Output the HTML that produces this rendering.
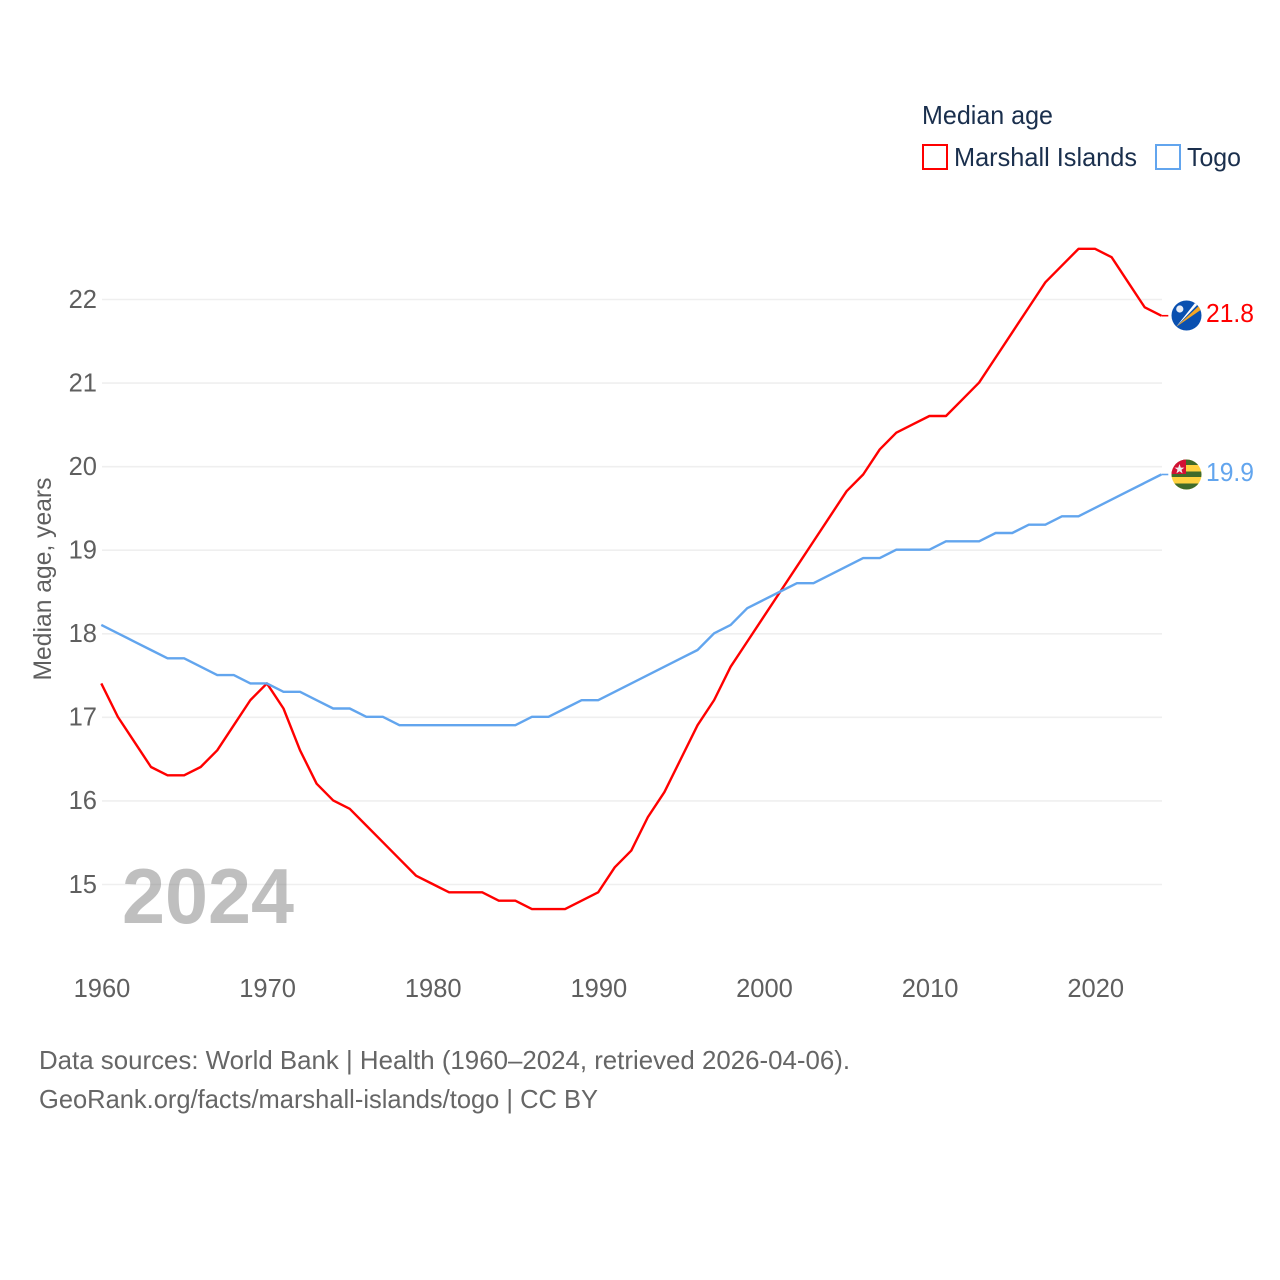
<!DOCTYPE html>
<html lang="en">
<head>
<meta charset="utf-8">
<title>Median age: Marshall Islands and Togo</title>
<style>
html,body{margin:0;padding:0;background:#fff;}
svg{display:block;font-family:"Liberation Sans",sans-serif;}
</style>
</head>
<body>
<svg id="chart" xmlns="http://www.w3.org/2000/svg" width="1280" height="1280" viewBox="0 0 1280 1280">
  <defs>
    <clipPath id="flag-clip-mh"><circle cx="1186.5" cy="315.5" r="15"></circle></clipPath>
    <clipPath id="flag-clip-tg"><circle cx="1186.5" cy="474.5" r="15"></circle></clipPath>
  </defs>
  <rect x="0" y="0" width="1280" height="1280" fill="#ffffff"></rect>

  <g id="grid"></g>
  <g id="y-ticks"></g>
  <g id="x-ticks"></g>

  <text transform="translate(51,579) rotate(-90)" text-anchor="middle" font-size="25" fill="#5f5f5f" textLength="203" lengthAdjust="spacingAndGlyphs">Median age, years</text>

  <text x="122" y="923" font-size="78" font-weight="700" fill="#808080" fill-opacity="0.5" textLength="172" lengthAdjust="spacingAndGlyphs">2024</text>

  <g id="series"></g>

  <g>
    <text x="922" y="124" font-size="26" fill="#1a2f4d" textLength="131" lengthAdjust="spacingAndGlyphs">Median age</text>
    <g>
      <rect x="923" y="145" width="24" height="24" fill="#ffffff" stroke="#ff0000" stroke-width="2"></rect>
      <text x="954" y="166" font-size="26" fill="#1a2f4d" textLength="183" lengthAdjust="spacingAndGlyphs">Marshall Islands</text>
    </g>
    <g>
      <rect x="1156" y="145" width="24" height="24" fill="#ffffff" stroke="#62a5ee" stroke-width="2"></rect>
      <text x="1187" y="166" font-size="26" fill="#1a2f4d" textLength="54" lengthAdjust="spacingAndGlyphs">Togo</text>
    </g>
  </g>

  <g clip-path="url(#flag-clip-mh)">
    <rect x="1171" y="300" width="31" height="32" fill="#0a50b0"></rect>
    <polygon points="1176,327 1202,303 1202,309" fill="#f5a623"></polygon>
    <polygon points="1176,327 1195,303 1199,303" fill="#ffffff"></polygon>
    <circle cx="1179.8" cy="309" r="3.6" fill="#e8eef8"></circle>
  </g>
  <g clip-path="url(#flag-clip-tg)">
    <rect x="1171" y="459" width="31" height="31" fill="#ffd23f"></rect>
    <rect x="1171" y="459" width="31" height="6" fill="#3f6b2a"></rect>
    <rect x="1171" y="471.5" width="31" height="5.5" fill="#3f6b2a"></rect>
    <rect x="1171" y="483.5" width="31" height="6.5" fill="#3f6b2a"></rect>
    <rect x="1171" y="459" width="15" height="15" fill="#d21034"></rect>
    <polygon points="1179.5,465 1180.8,468.6 1184.4,468.6 1181.5,470.8 1182.6,474.4 1179.5,472.2 1176.4,474.4 1177.5,470.8 1174.6,468.6 1178.2,468.6" fill="#eeeeee" transform="translate(0,-1)"></polygon>
  </g>

  <text id="end-label-mh" x="1206" y="322" font-size="26" fill="#ff0000" textLength="48" lengthAdjust="spacingAndGlyphs"></text>
  <text id="end-label-tg" x="1206" y="481" font-size="26" fill="#62a5ee" textLength="48" lengthAdjust="spacingAndGlyphs"></text>

  <g>
    <text x="39" y="1069" font-size="26" fill="#666666" textLength="811" lengthAdjust="spacingAndGlyphs">Data sources: World Bank | Health (1960–2024, retrieved 2026-04-06).</text>
    <text x="39" y="1108" font-size="26" fill="#666666" textLength="559" lengthAdjust="spacingAndGlyphs">GeoRank.org/facts/marshall-islands/togo | CC BY</text>
  </g>
</svg>

<script>
const firstYear = 1960;
const xTickLabels = [1960, 1970, 1980, 1990, 2000, 2010, 2020];
const yTickLabels = [15, 16, 17, 18, 19, 20, 21, 22];
const marshallIslands = [
  17.4, 17.0, 16.7, 16.4, 16.3, 16.3, 16.4, 16.6, 16.9, 17.2,
  17.4, 17.1, 16.6, 16.2, 16.0, 15.9, 15.7, 15.5, 15.3, 15.1,
  15.0, 14.9, 14.9, 14.9, 14.8, 14.8, 14.7, 14.7, 14.7, 14.8,
  14.9, 15.2, 15.4, 15.8, 16.1, 16.5, 16.9, 17.2, 17.6, 17.9,
  18.2, 18.5, 18.8, 19.1, 19.4, 19.7, 19.9, 20.2, 20.4, 20.5,
  20.6, 20.6, 20.8, 21.0, 21.3, 21.6, 21.9, 22.2, 22.4, 22.6,
  22.6, 22.5, 22.2, 21.9, 21.8
];
const togo = [
  18.1, 18.0, 17.9, 17.8, 17.7, 17.7, 17.6, 17.5, 17.5, 17.4,
  17.4, 17.3, 17.3, 17.2, 17.1, 17.1, 17.0, 17.0, 16.9, 16.9,
  16.9, 16.9, 16.9, 16.9, 16.9, 16.9, 17.0, 17.0, 17.1, 17.2,
  17.2, 17.3, 17.4, 17.5, 17.6, 17.7, 17.8, 18.0, 18.1, 18.3,
  18.4, 18.5, 18.6, 18.6, 18.7, 18.8, 18.9, 18.9, 19.0, 19.0,
  19.0, 19.1, 19.1, 19.1, 19.2, 19.2, 19.3, 19.3, 19.4, 19.4,
  19.5, 19.6, 19.7, 19.8, 19.9
];

const SVG_NS = 'http://www.w3.org/2000/svg';
const plotLeft = 101.3, plotRight = 1161.3;
const pxPerYear = (plotRight - plotLeft) / 64;
const xScale = function (year) { return plotLeft + (year - 1960) * pxPerYear; };
const yScale = function (v) { return 884 - (v - 15) * (585 / 7); };

function make(tag, attrs, parent) {
  const el = document.createElementNS(SVG_NS, tag);
  Object.keys(attrs).forEach(function (k) { el.setAttribute(k, attrs[k]); });
  parent.appendChild(el);
  return el;
}

const gridGroup = document.getElementById('grid');
const yGroup = document.getElementById('y-ticks');
const xGroup = document.getElementById('x-ticks');
const seriesGroup = document.getElementById('series');

yTickLabels.forEach(function (v) {
  const line = make('line', { x1: plotLeft + 0.7, x2: plotRight + 0.7, y1: yScale(v) + 0.5, y2: yScale(v) + 0.5, stroke: '#efefef', 'stroke-width': 1.6 }, gridGroup);
  
  
  const label = make('text', { x: 97, y: yScale(v) + 8.8, 'text-anchor': 'end', 'font-size': 25.5, fill: '#5f5f5f' }, yGroup);
  
  
  label.textContent = String(v);
});

xTickLabels.forEach(function (year) {
  const label = make('text', { x: xScale(year) + 0.7, y: 997, 'text-anchor': 'middle', 'font-size': 25.5, fill: '#5f5f5f' }, xGroup);
  
  
  label.textContent = String(year);
});

function drawSeries(values, color, key) {
  const pts = values.map(function (v, i) {
    return xScale(firstYear + i).toFixed(2) + ',' + yScale(v).toFixed(2);
  });
  const lastY = yScale(values[values.length - 1]).toFixed(2);
  const line = make('polyline', { points: pts.join(' '), fill: 'none', stroke: color, 'stroke-width': 2.4, 'stroke-linejoin': 'round' }, seriesGroup);
  
  
  const connector = make('line', { x1: plotRight, x2: plotRight + 7, y1: lastY, y2: lastY, stroke: color, 'stroke-width': 1.6 }, seriesGroup);
  
  
}

drawSeries(marshallIslands, '#ff0000', 'marshall-islands');
drawSeries(togo, '#62a5ee', 'togo');

document.getElementById('end-label-mh').textContent = marshallIslands[marshallIslands.length - 1].toFixed(1);
document.getElementById('end-label-tg').textContent = togo[togo.length - 1].toFixed(1);
</script>
</body>
</html>
